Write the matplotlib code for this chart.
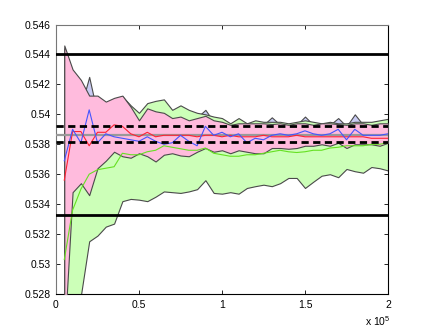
import numpy as np
import matplotlib
matplotlib.use("Agg")
import matplotlib.pyplot as plt

plt.rcParams['font.family'] = ['Liberation Sans', 'DejaVu Sans']

# sample positions (every 5000 up to 2e5)
x_vals = np.arange(5000, 200001, 5000)

pink_upper = [0.5446, 0.5430, 0.5423, 0.54125, 0.54125, 0.54085, 0.5411, 0.54125, 0.5405, 0.5396,
              0.5404, 0.5402, 0.5401, 0.53975, 0.53985, 0.5396, 0.53975, 0.5399, 0.5396, 0.5395,
              0.5393, 0.5394, 0.5394, 0.5394, 0.5394, 0.53935, 0.5394, 0.5393, 0.5394, 0.5394,
              0.5393, 0.5394, 0.5394, 0.53935, 0.5393, 0.5394, 0.5394, 0.5393, 0.5394, 0.5394]
pink_lower = [0.5250, 0.5348, 0.5354, 0.5346, 0.5364, 0.5369, 0.5375, 0.5372, 0.5371, 0.5374,
              0.5372, 0.53685, 0.5373, 0.5374, 0.53725, 0.5372, 0.5375, 0.53775, 0.5375, 0.5376,
              0.5374, 0.5376, 0.5375, 0.5374, 0.5374, 0.53775, 0.53775, 0.5377, 0.53775, 0.5379,
              0.5379, 0.5380, 0.5379, 0.5381, 0.53775, 0.5380, 0.5380, 0.5380, 0.5379, 0.5381]
green_upper = [0.5444, 0.5428, 0.5421, 0.5410, 0.5411, 0.5407, 0.5409, 0.5412, 0.5406, 0.5401,
               0.54075, 0.5409, 0.5410, 0.5403, 0.5406, 0.5403, 0.5401, 0.5400, 0.53985, 0.53975,
               0.5394, 0.53975, 0.5394, 0.5396, 0.5395, 0.5395, 0.5395, 0.5394, 0.5395, 0.5396,
               0.5395, 0.5394, 0.5395, 0.5394, 0.5394, 0.5395, 0.5395, 0.5395, 0.5396, 0.5397]
green_lower = [0.5240, 0.5240, 0.5279, 0.53152, 0.5319, 0.5325, 0.5327, 0.5342, 0.53435, 0.5343,
               0.5342, 0.5345, 0.53485, 0.5348, 0.53475, 0.53485, 0.5350, 0.5356, 0.53475, 0.5347,
               0.5348, 0.5347, 0.53508, 0.5352, 0.5353, 0.5352, 0.5354, 0.53575, 0.53575, 0.53508,
               0.5355, 0.5359, 0.5360, 0.5358, 0.53635, 0.5362, 0.5361, 0.53648, 0.5364, 0.53625]
lav_upper = [0.5440, 0.5425, 0.5405, 0.5425, 0.5400, 0.5404, 0.5406, 0.5409, 0.5403, 0.5398,
             0.5404, 0.5406, 0.5407, 0.5400, 0.5403, 0.5400, 0.5398, 0.5403, 0.5395, 0.5394,
             0.5391, 0.5394, 0.5391, 0.5393, 0.5393, 0.5398, 0.5393, 0.5391, 0.5393, 0.53985,
             0.5393, 0.5391, 0.5393, 0.53975, 0.5392, 0.5400, 0.5393, 0.5393, 0.5393, 0.5394]

blue_line = [0.5369, 0.5390, 0.5381, 0.5403, 0.5381, 0.5387, 0.5385, 0.5384, 0.5383, 0.5382,
             0.5385, 0.5382, 0.5380, 0.5381, 0.5386, 0.5382, 0.5379, 0.5392, 0.5386, 0.5388,
             0.5385, 0.5387, 0.5381, 0.5384, 0.5383, 0.5386, 0.5387, 0.5386, 0.5387, 0.5389,
             0.5387, 0.5386, 0.5387, 0.5390, 0.5383, 0.5390, 0.5386, 0.5386, 0.5386, 0.5387]
red_line = [0.5356, 0.53885, 0.53885, 0.5379, 0.5388, 0.5388, 0.5393, 0.5392, 0.5387, 0.5385,
            0.5388, 0.5385, 0.5386, 0.5386, 0.5386, 0.5386, 0.5385, 0.5386, 0.5386, 0.5385,
            0.5386, 0.5385, 0.5385, 0.5385, 0.5386, 0.5385, 0.5385, 0.5385, 0.5386, 0.5385,
            0.5385, 0.5385, 0.5385, 0.5385, 0.5385, 0.5385, 0.5385, 0.5384, 0.5384, 0.5384]
green_line = [0.5303, 0.5336, 0.5350, 0.5360, 0.5363, 0.5364, 0.5365, 0.5374, 0.5373, 0.5373,
              0.5375, 0.5376, 0.5379, 0.5378, 0.5377, 0.5376, 0.5376, 0.53775, 0.5374, 0.5373,
              0.5372, 0.5372, 0.5373, 0.5373, 0.5374, 0.5375, 0.5376, 0.5375, 0.53745, 0.5375,
              0.5376, 0.5376, 0.53775, 0.5378, 0.5379, 0.5379, 0.5379, 0.5380, 0.5380, 0.5381]

true_value = 0.53863
outer_bounds = [0.5440, 0.53325]
inner_bounds = [0.53919, 0.53812]

x_ticks = [0, 50000, 100000, 150000, 200000]
x_tick_labels = ['0', '0.5', '1', '1.5', '2']
y_ticks = [0.528, 0.530, 0.532, 0.534, 0.536, 0.538, 0.540, 0.542, 0.544, 0.546]
y_tick_labels = ['0.528', '0.53', '0.532', '0.534', '0.536', '0.538', '0.54', '0.542', '0.544', '0.546']

fig = plt.figure(figsize=(4.29, 3.32), dpi=100)
ax = fig.add_axes([0.1305, 0.1145, 0.7739, 0.8117])

edge = '#4a4a4a'
ax.fill_between(x_vals, pink_lower, lav_upper, facecolor='#c9cbf3', edgecolor=edge, linewidth=0.8, zorder=1)
ax.fill_between(x_vals, green_lower, green_upper, facecolor='#ccffb8', edgecolor=edge, linewidth=0.8, zorder=2)
ax.fill_between(x_vals, pink_lower, pink_upper, facecolor='#ffbbdd', edgecolor=edge, linewidth=0.8, zorder=3)

ax.axhline(true_value, color='#999999', linewidth=1.6, zorder=4)
ax.plot(x_vals, green_line, color='#66e022', linewidth=0.8, zorder=5)
ax.plot(x_vals, red_line, color='#ff2233', linewidth=0.8, zorder=5)
ax.plot(x_vals, blue_line, color='#4455ff', linewidth=0.8, zorder=6)

for yb in outer_bounds:
    ax.axhline(yb, color='black', linewidth=2.0, zorder=7)
for yb in inner_bounds:
    ax.axhline(yb, color='black', linewidth=2.0, linestyle=(0, (2.6, 1.6)), zorder=7)

ax.set_xlim(0, 200000)
ax.set_ylim(0.528, 0.546)
ax.set_xticks(x_ticks)
ax.set_xticklabels(x_tick_labels)
ax.set_yticks(y_ticks)
ax.set_yticklabels(y_tick_labels)
ax.tick_params(direction='in', length=3, width=0.6, top=True, right=True,
               labelsize=7.5, pad=4, colors='black')

for side in ['top', 'left']:
    ax.spines[side].set_color('#777777')
for side in ['bottom', 'right']:
    ax.spines[side].set_color('black')
for s in ax.spines.values():
    s.set_linewidth(0.8)

ax.text(1.008, -0.1, r'x 10$^{\mathregular{5}}$', transform=ax.transAxes,
        ha='right', va='center', fontsize=7.5)

fig.savefig('out.png', dpi=100)
